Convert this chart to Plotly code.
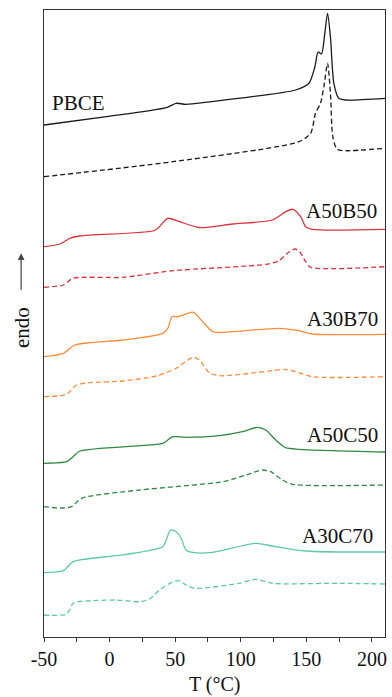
import plotly.graph_objects as go

# Temperature (°C) and offset heat-flow (arbitrary units) for each DSC trace
pbce_T = [-50, -2.4, 43.2, 50.7, 58.3, 98.8, 141.9, 152, 156.5, 159, 161.6, 164.1, 166.2, 168.4, 171, 174.8, 180, 210]
pbce_y = [512, 520.3, 529.3, 533.7, 532.7, 538.7, 547, 553.7, 570, 585, 583, 603.7, 623.7, 600, 553.7, 538.7, 537, 538.7]
pbce_d_T = [-50, 48.2, 144.4, 153.3, 157, 160.8, 163.4, 166.2, 168.4, 170.2, 173.5, 180, 210]
pbce_d_y = [460.3, 475.3, 495.3, 503.7, 523.7, 533.7, 550.3, 573.7, 543.7, 500.3, 487.7, 486.3, 488.7]

a50b50_T = [-50, -37.9, -30.3, -22.7, 33, 36.8, 44.4, 53.3, 68.5, 93.7, 124.1, 134.3, 139.8, 145.7, 149.5, 154.5, 210]
a50b50_y = [390.3, 393, 398.7, 401, 406, 408.7, 418.7, 415.3, 409.5, 413, 417, 425.3, 427.7, 420.3, 410.3, 407.7, 407.7]
a50b50_d_T = [-50, -35.3, -27.8, 10.2, 48.2, 119.1, 129.2, 135.5, 141.3, 144.9, 149.5, 153.3, 210]
a50b50_d_y = [349.7, 352, 358.7, 359.7, 366.3, 372.7, 376.3, 383.7, 388, 385.3, 375.3, 369.7, 370.3]

a30b70_T = [-50, -35.3, -26.5, -15.1, 10.2, 40.6, 44.4, 47.7, 52, 58.3, 63.9, 71, 78.6, 86.2, 129.2, 144.4, 154.5, 210]
a30b70_y = [280.3, 283.7, 292, 294.3, 297, 303.7, 308.7, 320.3, 320.3, 323, 324.7, 315.3, 305.3, 304.7, 308.7, 306.3, 303, 302.7]
a30b70_d_T = [-50, -32.8, -25.2, -15.1, 10.2, 35.6, 50.8, 59.6, 63.9, 68.5, 76, 83.6, 124.1, 133, 141.9, 154.5, 210]
a30b70_d_y = [240.3, 242.7, 252, 254.3, 256, 261, 268.7, 277, 279.7, 277, 264.3, 261.3, 266.3, 267.7, 265.3, 260.3, 260.3]

a50c50_T = [-50, -32.8, -27.8, -22.7, 40.6, 44.4, 48.2, 58.3, 83.6, 101.3, 112.7, 119.1, 126.7, 134.3, 144.4, 210]
a50c50_y = [173.7, 175.3, 180.3, 186, 193.7, 197, 200.3, 199.7, 201.3, 205.3, 209.7, 207, 197, 189.3, 187.7, 185]
a50c50_d_T = [-50, -37.9, -29, -21.4, 22.9, 86.2, 103.9, 116.5, 122.9, 131.7, 139.3, 210]
a50c50_d_y = [130.3, 129, 130.3, 138.7, 147, 155.3, 162, 167, 165.3, 157, 152.7, 152]

a30c70_T = [-50, -35.3, -27.8, -17.6, 12.8, 40.6, 43.2, 46.4, 50.8, 54.6, 58.3, 64.6, 78.6, 111.5, 124.1, 149.5, 210]
a30c70_y = [64.3, 66.3, 75.3, 78, 82.7, 90.3, 97, 107, 105.3, 98.7, 87, 84.3, 84.7, 93.7, 91, 86, 85]
a30c70_d_T = [-50, -32.8, -27.8, -24, 5.2, 22.9, 30.5, 38.1, 46.9, 52.7, 58.3, 64.6, 98.8, 111.5, 124.1, 174.8, 210]
a30c70_d_y = [22, 23, 33.7, 35.3, 37, 35.3, 38, 47, 54.3, 56.3, 52, 48.7, 53.7, 57.7, 53.7, 53.7, 53]

labels = ["PBCE", "A50B50", "A30B70", "A50C50", "A30C70"]
colors = ["#1a1a1a", "#d9343c", "#ff8c3c", "#2e8a40", "#5ccaa4"]

series = [
    (pbce_T, pbce_y, pbce_d_T, pbce_d_y),
    (a50b50_T, a50b50_y, a50b50_d_T, a50b50_d_y),
    (a30b70_T, a30b70_y, a30b70_d_T, a30b70_d_y),
    (a50c50_T, a50c50_y, a50c50_d_T, a50c50_d_y),
    (a30c70_T, a30c70_y, a30c70_d_T, a30c70_d_y),
]

fig = go.Figure()
for (t, y, td, yd), name, c in zip(series, labels, colors):
    fig.add_trace(go.Scatter(x=t, y=y, mode="lines", name=name,
                             line=dict(color=c, width=1.3, shape="spline", smoothing=0.7)))
    fig.add_trace(go.Scatter(x=td, y=yd, mode="lines", name=name + " (2nd)",
                             line=dict(color=c, width=1.3, dash="5px,3px", shape="spline", smoothing=0.7)))

font_family = "Liberation Serif, Times New Roman, serif"
label_pos = [(-45.4, 534, "left"), (205.1, 426.3, "right"), (205.9, 318, "right"),
             (205.9, 202, "right"), (202.1, 101.3, "right")]
for name, (lx, ly, anc) in zip(labels, label_pos):
    fig.add_annotation(x=lx, y=ly, xref="x", yref="y", text=name, showarrow=False,
                       xanchor=anc, yanchor="middle",
                       font=dict(family=font_family, size=21, color="#111"))

# y-axis label with arrow
fig.add_annotation(x=-0.064, y=0.493, xref="paper", yref="paper", text="endo",
                   textangle=-90, showarrow=False, xanchor="center", yanchor="middle",
                   font=dict(family=font_family, size=21, color="#111"))
fig.add_annotation(x=-0.067, y=0.612, xref="paper", yref="paper", text="",
                   showarrow=True, ax=0, ay=38, arrowhead=2, arrowsize=1.1,
                   arrowwidth=1.2, arrowcolor="#444")
fig.add_annotation(x=0.5, y=-0.0765, xref="paper", yref="paper", text="T (°C)",
                   showarrow=False, xanchor="center", yanchor="middle",
                   font=dict(family=font_family, size=20, color="#111"))

fig.update_layout(
    width=392, height=697,
    margin=dict(l=44, r=5, t=10, b=60),
    plot_bgcolor="white", paper_bgcolor="white",
    showlegend=False,
    xaxis=dict(range=[-50, 210], tickmode="array", tickvals=[-50, 0, 50, 100, 150, 200],
               ticktext=["-50", "0", "50", "100", "150", "200"],
               ticks="outside", ticklen=4, tickwidth=1, tickcolor="#333",
               minor=dict(tickvals=[-25, 25, 75, 125, 175], ticks="outside", ticklen=4, tickcolor="#333"),
               showline=True, linecolor="#333", linewidth=1.2, mirror=True,
               showgrid=False, zeroline=False,
               tickfont=dict(family=font_family, size=20, color="#111")),
    yaxis=dict(range=[0, 627], showticklabels=False, ticks="",
               showline=True, linecolor="#333", linewidth=1.2, mirror=True,
               showgrid=False, zeroline=False),
)

fig.write_html("out.html")
